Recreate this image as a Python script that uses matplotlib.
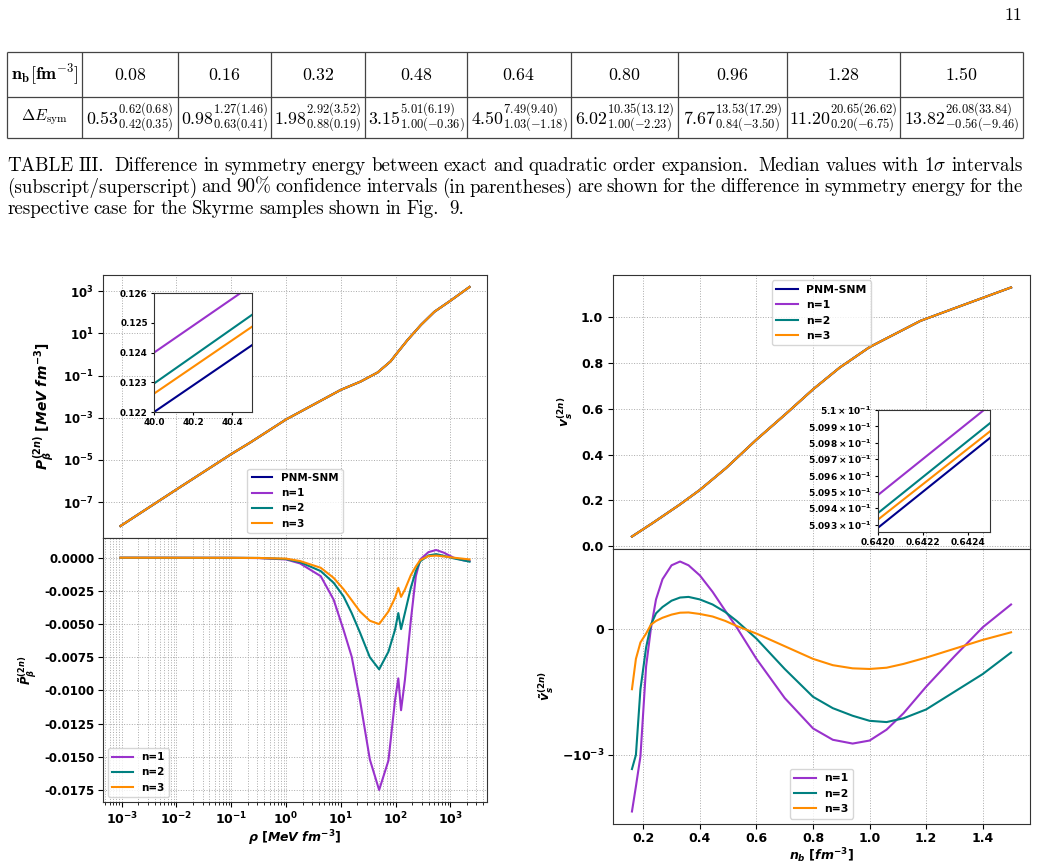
import numpy as np
import matplotlib
matplotlib.use("Agg")
import matplotlib.pyplot as plt
from matplotlib.ticker import FormatStrFormatter, MultipleLocator, FuncFormatter, NullLocator

W, H = 1037, 866

# ---------------- table III ----------------
nb_table = ["0.08", "0.16", "0.32", "0.48", "0.64", "0.80", "0.96", "1.28", "1.50"]
dE_med = ["0.53", "0.98", "1.98", "3.15", "4.50", "6.02", "7.67", "11.20", "13.82"]
dE_hi = ["0.62(0.68)", "1.27(1.46)", "2.92(3.52)", "5.01(6.19)", "7.49(9.40)",
         "10.35(13.12)", "13.53(17.29)", "20.65(26.62)", "26.08(33.84)"]
dE_lo = ["0.42(0.35)", "0.63(0.41)", "0.88(0.19)", "1.00(-0.36)", "1.03(-1.18)",
         "1.00(-2.23)", "0.84(-3.50)", "0.20(-6.75)", "-0.56(-9.46)"]

caption = [
    r"TABLE III.  Difference in symmetry energy between exact and quadratic order expansion.  Median values with 1$\sigma$ intervals",
    "(subscript/superscript) and 90% confidence intervals (in parentheses) are shown for the difference in symmetry energy for the",
    "respective case for the Skyrme samples shown in Fig.  9.",
]

# ---------------- left panel : pressure ----------------
rho = [9.5e-4, 0.01, 0.1, 0.22, 1.0, 3.6, 10.0, 23.0, 47.0, 81.0, 100.0, 166.0, 290.0, 510.0, 1000.0, 2240.0]
P_beta = [7.4e-9, 4.0e-7, 1.9e-5, 6.6e-5, 8.3e-4, 5.0e-3, 2.1e-2, 5.2e-2, 0.14, 0.47, 0.95, 4.9, 25.0, 105.0, 350.0, 1580.0]

rho_zoom = [40.0, 40.5]
P_zoom = {
    "PNM-SNM": [0.12200, 0.12425],
    "n=1": [0.12400, 0.12627],
    "n=2": [0.12296, 0.12527],
    "n=3": [0.12262, 0.12487],
}

rho_d = [9.5e-4, 0.1, 0.32, 1.0, 1.8, 4.3, 7.4, 11.2, 15.8, 22.4, 33.9, 50.1, 74.1, 97.7,
         112.2, 125.9, 147.9, 190.5, 234.4, 281.8, 398.1, 549.5, 758.6, 1148.0, 1738.0, 2239.0]
Pt_n1 = [0.0, -0.01, -0.03, -0.13, -0.43, -1.39, -3.16, -5.43, -7.45, -10.73, -15.2, -17.5, -15.28, -10.73,
         -9.09, -11.49, -9.22, -4.67, -1.39, -0.13, 0.42, 0.58, 0.38, 0.0, -0.20, -0.25]
Pt_n2 = [0.0, -0.01, -0.02, -0.10, -0.33, -1.01, -1.89, -2.91, -4.17, -5.64, -7.5, -8.41, -7.08, -5.43,
         -4.17, -5.38, -4.17, -2.24, -1.0, -0.27, 0.17, 0.27, 0.14, -0.05, -0.20, -0.30]
Pt_n3 = [0.0, -0.01, -0.02, -0.07, -0.25, -0.76, -1.52, -2.37, -3.2, -4.05, -4.75, -5.0, -4.05, -3.03,
         -2.27, -2.95, -2.40, -1.3, -0.66, -0.18, 0.12, 0.16, 0.10, 0.0, -0.08, -0.13]

# ---------------- right panel : speed of sound ----------------
nb = [0.16, 0.233, 0.328, 0.40, 0.492, 0.60, 0.706, 0.80, 0.894, 1.00, 1.18, 1.30, 1.50]
vs = [0.041, 0.100, 0.180, 0.245, 0.340, 0.465, 0.580, 0.685, 0.780, 0.870, 0.985, 1.040, 1.131]

nb_zoom = [0.6420, 0.6425]
vs_zoom = {
    "PNM-SNM": [0.50928, 0.50983],
    "n=1": [0.50948, 0.51003],
    "n=2": [0.50937, 0.50992],
    "n=3": [0.50933, 0.50987],
}

nb_d = [0.16, 0.174, 0.19, 0.21, 0.227, 0.245, 0.268, 0.30, 0.33, 0.36, 0.40, 0.445, 0.49,
        0.53, 0.60, 0.70, 0.80, 0.87, 0.94, 1.00, 1.06, 1.12, 1.20, 1.30, 1.40, 1.50]
vt_n1 = [-3.14, -1.89, -1.03, -0.30, 0.0, 0.23, 0.39, 0.50, 0.53, 0.50, 0.42, 0.29, 0.14,
         0.01, -0.24, -0.55, -0.79, -0.88, -0.91, -0.886, -0.80, -0.67, -0.46, -0.22, 0.01, 0.19]
vt_n2 = [-1.33, -1.0, -0.48, -0.15, 0.03, 0.12, 0.17, 0.22, 0.245, 0.25, 0.23, 0.19, 0.13,
         0.06, -0.08, -0.32, -0.54, -0.63, -0.69, -0.73, -0.74, -0.71, -0.64, -0.50, -0.36, -0.19]
vt_n3 = [-0.48, -0.24, -0.11, -0.04, 0.03, 0.06, 0.085, 0.11, 0.125, 0.127, 0.115, 0.095, 0.06,
         0.02, -0.04, -0.14, -0.24, -0.29, -0.315, -0.32, -0.31, -0.28, -0.23, -0.16, -0.09, -0.03]

colors = {"PNM-SNM": "darkblue", "n=1": "darkorchid", "n=2": "teal", "n=3": "darkorange"}

plt.rcParams["font.family"] = "DejaVu Sans"
plt.rcParams["font.weight"] = "bold"
plt.rcParams["axes.labelweight"] = "bold"
plt.rcParams["mathtext.fontset"] = "custom"
plt.rcParams["mathtext.rm"] = "DejaVu Sans:bold"
plt.rcParams["mathtext.bf"] = "DejaVu Sans:bold"
plt.rcParams["mathtext.it"] = "DejaVu Sans:italic:bold"
plt.rcParams["mathtext.sf"] = "DejaVu Sans:bold"
plt.rcParams["axes.edgecolor"] = "#333333"


def px_box(l, t, r, b):
    return [l / W, 1 - b / H, (r - l) / W, (b - t) / H]


def grid(ax, which="major"):
    ax.grid(True, which=which, linestyle=":", color="#aaaaaa", linewidth=0.7)


fig = plt.figure(figsize=(W / 100, H / 100), dpi=100)

# page layer (text in pixel coordinates)
page = fig.add_axes([0, 0, 1, 1])
page.set_xlim(0, W)
page.set_ylim(H, 0)
page.axis("off")

tex = dict(family="cmr10", weight="normal", math_fontfamily="cm", color="black")
page.text(1022, 15, "11", ha="right", va="center", fontsize=13, **tex)

# table
col_edges = [7, 82, 178, 271, 365, 467, 571, 678, 787, 900, 1023]
row_edges = [52, 97, 138]
page.hlines(row_edges, col_edges[0], col_edges[-1], color="#444444", lw=0.9)
page.vlines(col_edges, row_edges[0], row_edges[-1], color="#444444", lw=0.9)
y_head = (row_edges[0] + row_edges[1]) / 2
y_body = (row_edges[1] + row_edges[2]) / 2
page.text((col_edges[0] + col_edges[1]) / 2, y_head, r"$\mathbf{n_b[fm^{-3}]}$",
          ha="center", va="center", fontsize=13, **tex)
page.text((col_edges[0] + col_edges[1]) / 2, y_body, r"$\Delta E_{\rm sym}$",
          ha="center", va="center", fontsize=11.5, **tex)
for i, lab in enumerate(nb_table):
    xc = (col_edges[i + 1] + col_edges[i + 2]) / 2
    page.text(xc, y_head, "$%s$" % lab, ha="center", va="center", fontsize=12.8, **tex)
    cell = r"$%s^{%s}_{%s}$" % (dE_med[i], dE_hi[i], dE_lo[i])
    page.text(xc, y_body + 1, cell, ha="center", va="center", fontsize=12.8, **tex)

# justified caption
renderer = fig.canvas.get_renderer()
x_left, x_right = 7, 1023
for k, line in enumerate(caption):
    y = 171 + 21.5 * k
    words = line.split(" ")
    texts = [page.text(0, y, w, ha="left", va="baseline", fontsize=13.7, **tex) for w in words]
    widths = [t.get_window_extent(renderer).width for t in texts]
    if k < len(caption) - 1:
        gap = (x_right - x_left - sum(widths)) / (len(words) - 1)
    else:
        gap = 5.0
    x = x_left
    for t, w in zip(texts, widths):
        t.set_x(x)
        x += w + gap

# ---------------- left figure ----------------
axP = fig.add_axes(px_box(103, 275, 487, 538))
axPt = fig.add_axes(px_box(103, 538, 487, 802), sharex=axP)

for name in ["PNM-SNM", "n=1", "n=2", "n=3"]:
    axP.plot(rho, P_beta, color=colors[name], lw=1.5, label=name)
axP.set_xscale("log")
axP.set_yscale("log")
axP.set_yticks([1e-7, 1e-5, 1e-3, 1e-1, 1e1, 1e3])
axP.tick_params(labelbottom=False, labelsize=8.5)
axP.set_ylabel(r"$P_{\beta}^{(2n)}\ [MeV\ fm^{-3}]$", fontsize=10)
grid(axP)
axP.legend(loc="lower center", fontsize=7.5)

insP = axP.inset_axes([0.133, 0.479, 0.255, 0.452])
for name, vals in P_zoom.items():
    insP.plot(rho_zoom, vals, color=colors[name], lw=1.5)
insP.set_xlim(40.0, 40.5)
insP.set_ylim(0.122, 0.126)
insP.xaxis.set_major_locator(MultipleLocator(0.2))
insP.xaxis.set_major_formatter(FormatStrFormatter("%.1f"))
insP.yaxis.set_major_locator(MultipleLocator(0.001))
insP.yaxis.set_major_formatter(FormatStrFormatter("%.3f"))
insP.tick_params(labelsize=6.3, length=2.5, pad=2)

for vals, name in [(Pt_n1, "n=1"), (Pt_n2, "n=2"), (Pt_n3, "n=3")]:
    axPt.plot(rho_d, np.array(vals) * 1e-3, color=colors[name], lw=1.5, label=name)
axPt.set_xscale("log")
axPt.yaxis.set_major_locator(MultipleLocator(0.0025))
axPt.yaxis.set_major_formatter(FormatStrFormatter("%.4f"))
axPt.tick_params(labelsize=8.5, pad=2.5)
axPt.tick_params(axis="x", which="major", labelsize=9)
axPt.set_ylabel(r"$\tilde{P}_{\beta}^{(2n)}$", fontsize=8.5)
axPt.set_xlabel(r"$\rho\ [MeV\ fm^{-3}]$", fontsize=9, labelpad=1)
grid(axPt, "both")
axPt.legend(loc="lower left", fontsize=7.5)

# ---------------- right figure ----------------
axV = fig.add_axes(px_box(613, 275, 1030, 549))
axVt = fig.add_axes(px_box(613, 549, 1030, 824), sharex=axV)

for name in ["PNM-SNM", "n=1", "n=2", "n=3"]:
    axV.plot(nb, vs, color=colors[name], lw=1.5, label=name)
axV.tick_params(labelbottom=False, labelsize=9)
axV.set_ylabel(r"$v_s^{(2n)}$", fontsize=9)
grid(axV)
axV.legend(loc="upper center", fontsize=7.8)

insV = axV.inset_axes([0.635, 0.062, 0.269, 0.445])
for name, vals in vs_zoom.items():
    insV.plot(nb_zoom, vals, color=colors[name], lw=1.5)
insV.set_xlim(0.6420, 0.6425)
insV.set_ylim(0.509255, 0.5100)
insV.xaxis.set_major_locator(MultipleLocator(0.0002))
insV.xaxis.set_major_formatter(FormatStrFormatter("%.4f"))
insV.yaxis.set_major_locator(MultipleLocator(0.0001))
insV.yaxis.set_major_formatter(FuncFormatter(lambda v, _: r"$%g\times10^{-1}$" % round(v * 10, 4)))
insV.tick_params(labelsize=6.5, length=2.5, pad=2)

for vals, name in [(vt_n1, "n=1"), (vt_n2, "n=2"), (vt_n3, "n=3")]:
    axVt.plot(nb_d, np.array(vals) * 1e-3, color=colors[name], lw=1.5, label=name)
axVt.set_yscale("symlog", linthresh=1e-3)
axVt.yaxis.set_minor_locator(NullLocator())
axVt.tick_params(labelsize=9, pad=2.5)
axVt.set_ylabel(r"$\tilde{v}_s^{(2n)}$", fontsize=9)
axVt.set_xlabel(r"$n_b\ [fm^{-3}]$", fontsize=9, labelpad=1)
grid(axVt)
axVt.legend(loc="lower center", fontsize=7.8)

fig.savefig("out.png", dpi=100)
